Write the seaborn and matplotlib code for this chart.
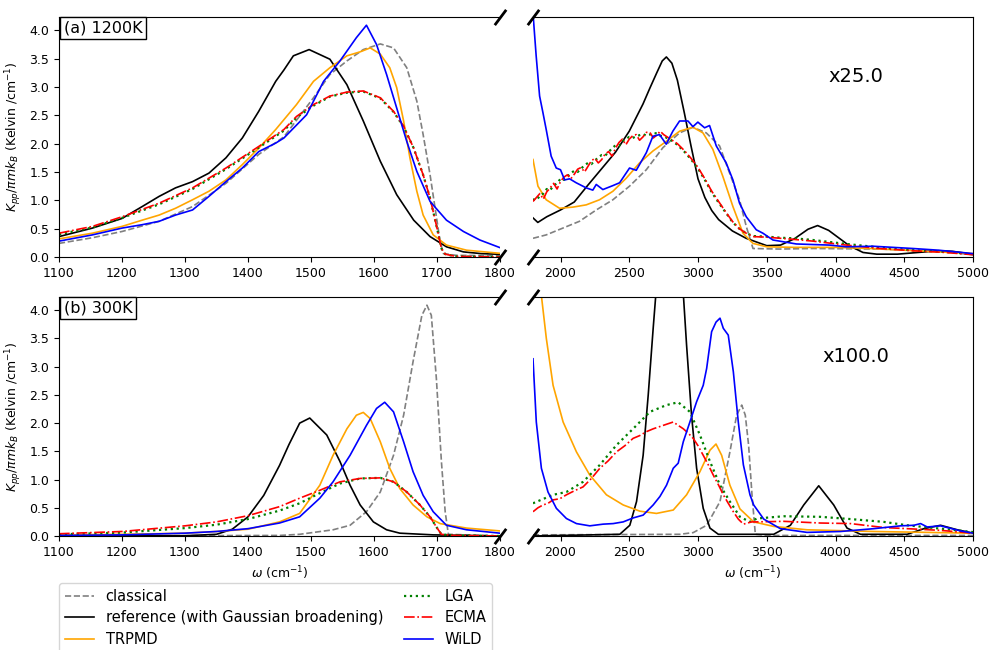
import matplotlib
matplotlib.use("Agg")
import matplotlib.pyplot as plt
from matplotlib.lines import Line2D
import seaborn as sns

# ---------------- data: panel (a) 1200K, low-frequency part ----------------
ta_ref_x = [1100,1153,1200,1232,1259,1285,1312,1338,1365,1391,1417,1444,1457,1472,1497,1530,1557,1583,1610,1636,1663,1689,1715,1742,1770,1800]
ta_ref = [0.36,0.51,0.68,0.89,1.07,1.22,1.33,1.48,1.75,2.10,2.57,3.10,3.30,3.55,3.66,3.49,3.04,2.40,1.69,1.10,0.65,0.36,0.18,0.09,0.06,0.047]
ta_trp_x = [1100,1153,1200,1232,1259,1285,1312,1338,1365,1391,1417,1444,1477,1504,1530,1557,1578,1594,1610,1625,1636,1647,1657,1668,1678,1694,1715,1747,1800]
ta_trp = [0.32,0.42,0.54,0.65,0.74,0.86,1.01,1.16,1.36,1.63,1.92,2.25,2.69,3.10,3.34,3.55,3.62,3.69,3.58,3.34,2.99,2.40,1.75,1.16,0.74,0.39,0.21,0.12,0.065]
ta_wild_x = [1100,1153,1200,1232,1259,1285,1312,1338,1365,1391,1417,1444,1457,1493,1520,1546,1572,1588,1604,1620,1636,1652,1668,1689,1715,1742,1768,1800]
ta_wild = [0.28,0.39,0.51,0.57,0.63,0.74,0.83,1.07,1.33,1.57,1.86,2.01,2.10,2.51,3.10,3.46,3.87,4.09,3.75,3.22,2.63,2.04,1.51,0.98,0.65,0.45,0.30,0.165]
ta_cl_x = [1100,1153,1200,1259,1312,1365,1417,1457,1504,1530,1557,1583,1610,1631,1652,1668,1678,1689,1697,1705,1710,1730,1800]
ta_cl = [0.24,0.34,0.45,0.63,0.89,1.30,1.81,2.12,2.81,3.22,3.46,3.66,3.76,3.69,3.34,2.75,2.16,1.45,0.86,0.27,0.06,0.03,0.02]
ta_rg_x = [1100,1153,1200,1259,1312,1365,1417,1457,1477,1504,1530,1557,1583,1610,1631,1647,1663,1678,1689,1700,1707,1713,1730,1800]
ta_ecma = [0.42,0.54,0.71,0.95,1.22,1.57,1.95,2.25,2.48,2.69,2.84,2.91,2.93,2.81,2.57,2.31,1.92,1.45,1.04,0.51,0.15,0.05,0.01,0.0]
ta_lga = [0.40,0.52,0.69,0.93,1.20,1.55,1.93,2.23,2.46,2.67,2.83,2.90,2.92,2.80,2.56,2.30,1.92,1.45,1.04,0.51,0.15,0.05,0.01,0.0]

# ---------------- panel (a) 1200K, high-frequency part (x25) ----------------
tb_ref_x = [1800,1835,1900,2000,2100,2200,2300,2400,2500,2600,2650,2700,2740,2770,2810,2850,2900,2950,3000,3050,3100,3150,3250,3350,3500,3600,3700,3800,3870,3950,4000,4100,4200,4300,4450,4600,4750,4850,5000]
tb_ref = [0.69,0.61,0.71,0.83,0.97,1.27,1.56,1.85,2.22,2.70,2.98,3.25,3.46,3.53,3.42,3.12,2.55,1.95,1.38,1.05,0.82,0.66,0.46,0.33,0.20,0.21,0.32,0.49,0.555,0.47,0.38,0.20,0.08,0.05,0.05,0.08,0.11,0.10,0.05]
tb_trp_x = [1800,1836,1896,1993,2090,2187,2284,2381,2478,2575,2672,2769,2866,2963,3036,3108,3181,3254,3327,3400,3500,3700,4000,4250,4500,4750,5000]
tb_trp = [1.72,1.25,1.01,0.86,0.88,0.92,1.01,1.16,1.39,1.66,1.87,2.04,2.22,2.29,2.19,1.90,1.42,0.89,0.42,0.24,0.18,0.17,0.17,0.15,0.12,0.09,0.06]
tb_wild_x = [1800,1823,1848,1872,1896,1932,1969,2000,2030,2066,2114,2187,2235,2260,2308,2381,2430,2502,2551,2624,2672,2720,2769,2817,2866,2927,2963,2999,3048,3084,3133,3205,3254,3302,3351,3424,3472,3545,3715,3958,4079,4273,4563,4750,5000]
tb_wild = [4.3,3.55,2.84,2.55,2.25,1.78,1.57,1.54,1.36,1.38,1.31,1.22,1.18,1.28,1.19,1.26,1.31,1.57,1.53,1.84,2.13,2.16,1.99,2.22,2.40,2.40,2.30,2.38,2.28,2.32,1.96,1.66,1.36,0.95,0.71,0.48,0.42,0.30,0.23,0.21,0.18,0.19,0.15,0.12,0.06]
tb_cl_x = [1800,1896,2017,2138,2260,2381,2502,2624,2745,2866,2963,3060,3157,3230,3302,3351,3400,3594,3836,4321,4750,5000]
tb_cl = [0.33,0.39,0.51,0.63,0.83,1.01,1.25,1.54,1.93,2.19,2.29,2.19,1.96,1.48,1.01,0.54,0.15,0.14,0.15,0.14,0.10,0.04]
tb_rg_x = [1800,1825,1850,1875,1900,1925,1950,1975,2000,2025,2050,2075,2100,2125,2150,2175,2200,2225,2250,2275,2300,2325,2350,2375,2400,2425,2450,2475,2500,2525,2550,2575,2600,2625,2650,2675,2700,2725,2750,2775,2800,2850,2900,2950,3000,3050,3100,3150,3200,3250,3300,3350,3400,3500,3600,3700,3836,4079,4321,4563,4800,5000]
tb_ecma = [0.98,1.05,1.12,1.02,1.15,1.22,1.30,1.20,1.33,1.41,1.45,1.38,1.46,1.55,1.58,1.50,1.60,1.70,1.74,1.66,1.72,1.82,1.86,1.78,1.92,2.02,2.08,1.98,2.08,2.14,2.16,2.06,2.12,2.20,2.20,2.10,2.15,2.22,2.16,2.12,2.08,2.00,1.88,1.74,1.58,1.38,1.16,0.98,0.80,0.63,0.50,0.42,0.36,0.35,0.33,0.31,0.28,0.21,0.15,0.11,0.08,0.04]
tb_lga = [1.02,1.00,1.08,1.12,1.20,1.18,1.26,1.30,1.38,1.36,1.42,1.48,1.52,1.50,1.56,1.62,1.66,1.64,1.70,1.76,1.80,1.79,1.85,1.92,1.97,1.96,2.04,2.08,2.12,2.10,2.13,2.15,2.17,2.14,2.16,2.19,2.18,2.14,2.13,2.10,2.07,1.98,1.86,1.72,1.56,1.36,1.14,0.96,0.79,0.62,0.50,0.42,0.37,0.36,0.34,0.33,0.30,0.23,0.17,0.12,0.09,0.05]

# ---------------- panel (b) 300K, low-frequency part ----------------
ba_ref_x = [1100,1300,1350,1375,1400,1425,1450,1465,1482,1498,1525,1546,1562,1578,1599,1620,1641,1694,1800]
ba_ref = [0.0,0.005,0.03,0.12,0.34,0.72,1.25,1.62,2.00,2.09,1.79,1.32,0.90,0.55,0.25,0.11,0.05,0.02,0.0]
ba_trp_x = [1100,1200,1300,1350,1400,1450,1482,1514,1535,1557,1572,1583,1594,1610,1625,1641,1662,1684,1705,1747,1800]
ba_trp = [0.02,0.03,0.05,0.08,0.12,0.25,0.40,0.90,1.43,1.90,2.14,2.19,2.08,1.67,1.20,0.84,0.55,0.34,0.22,0.14,0.09]
ba_wild_x = [1100,1200,1300,1350,1400,1450,1482,1514,1535,1562,1588,1604,1617,1631,1647,1662,1678,1694,1715,1747,1800]
ba_wild = [0.01,0.02,0.05,0.08,0.13,0.23,0.34,0.67,0.96,1.43,1.96,2.26,2.37,2.20,1.67,1.14,0.72,0.43,0.19,0.11,0.05]
ba_cl_x = [1100,1450,1482,1535,1562,1588,1610,1631,1647,1662,1676,1684,1691,1699,1707,1713,1718,1800]
ba_cl = [0.0,0.01,0.03,0.11,0.19,0.43,0.78,1.43,2.14,3.09,3.91,4.09,3.91,2.79,1.32,0.43,0.03,0.0]
ba_rg_x = [1100,1200,1300,1350,1400,1450,1482,1514,1546,1578,1610,1631,1652,1673,1689,1699,1707,1725,1800]
ba_ecma = [0.04,0.08,0.18,0.25,0.36,0.52,0.67,0.81,0.96,1.02,1.03,0.96,0.78,0.55,0.34,0.16,0.03,0.01,0.0]
ba_lga = [0.03,0.06,0.14,0.20,0.30,0.45,0.58,0.76,0.93,1.02,1.03,0.96,0.78,0.55,0.34,0.16,0.03,0.01,0.0]

# ---------------- panel (b) 300K, high-frequency part (x100) ----------------
bb_ref_x = [1800,2431,2504,2553,2601,2638,2674,2694,2740,2793,2845,2893,2917,2953,2990,3038,3087,3148,3550,3672,3769,3878,3987,4084,4182,4521,4643,4764,4886,5000]
bb_ref = [0.0,0.03,0.19,0.61,1.43,2.50,3.68,4.3,6.5,8.0,6.5,4.3,3.38,2.14,1.20,0.49,0.14,0.03,0.03,0.19,0.55,0.89,0.55,0.14,0.03,0.03,0.13,0.19,0.11,0.05]
bb_trp_x = [1800,1861,1897,1946,2019,2116,2213,2334,2456,2577,2698,2820,2917,3014,3087,3131,3172,3232,3305,3405,3550,3793,4279,5000]
bb_trp = [5.5,4.26,3.50,2.67,2.02,1.49,1.08,0.73,0.55,0.44,0.40,0.46,0.73,1.14,1.52,1.63,1.43,0.90,0.48,0.25,0.17,0.11,0.08,0.05]
bb_wild_x = [1800,1824,1861,1909,1970,2043,2116,2213,2310,2383,2456,2528,2601,2674,2723,2771,2820,2856,2893,2941,2990,3038,3063,3099,3131,3160,3184,3220,3257,3293,3330,3378,3405,3478,3599,3793,4036,4279,4473,4570,4619,4667,4764,4910,5000]
bb_wild = [3.14,2.02,1.20,0.78,0.49,0.31,0.22,0.18,0.21,0.22,0.25,0.32,0.37,0.55,0.70,0.90,1.20,1.29,1.67,2.02,2.38,2.67,2.97,3.62,3.79,3.86,3.68,3.56,2.91,2.02,1.26,0.73,0.55,0.30,0.13,0.064,0.08,0.13,0.18,0.19,0.22,0.16,0.18,0.09,0.05]
bb_cl_x = [1800,2868,2965,3063,3160,3232,3281,3318,3344,3368,3393,3417,3500,5000]
bb_cl = [0.02,0.03,0.06,0.19,0.61,1.49,2.14,2.32,2.14,1.61,0.72,0.03,0.01,0.01]
bb_ecma_x = [1800,1836,1873,1910,1946,1995,2043,2100,2164,2225,2286,2346,2407,2468,2528,2577,2626,2675,2723,2771,2820,2856,2893,2930,2965,3000,3038,3075,3111,3150,3184,3220,3257,3293,3330,3390,3429,3623,3890,4109,4352,4521,4764,5000]
bb_ecma = [0.43,0.50,0.55,0.58,0.64,0.66,0.73,0.80,0.87,1.02,1.20,1.33,1.49,1.60,1.73,1.78,1.85,1.90,1.94,1.98,2.02,1.96,1.90,1.82,1.73,1.60,1.43,1.26,1.08,0.90,0.73,0.58,0.43,0.30,0.21,0.25,0.25,0.26,0.23,0.22,0.15,0.13,0.10,0.05]
bb_lga_x = [1800,1946,2043,2164,2286,2407,2528,2650,2771,2856,2941,3014,3087,3160,3232,3305,3378,3429,3623,3890,4109,4352,4521,4764,5000]
bb_lga = [0.58,0.73,0.78,0.96,1.26,1.61,1.90,2.20,2.32,2.37,2.20,1.79,1.32,0.90,0.61,0.34,0.25,0.31,0.35,0.34,0.30,0.25,0.19,0.13,0.07]

labels = ["classical", "reference (with Gaussian broadening)", "TRPMD", "LGA", "ECMA", "WiLD"]
panel_titles = ["(a) 1200K", "(b) 300K"]
scale_labels = ["x25.0", "x100.0"]
yticks = [0.0, 0.5, 1.0, 1.5, 2.0, 2.5, 3.0, 3.5, 4.0]
xticks_lo = [1100, 1200, 1300, 1400, 1500, 1600, 1700, 1800]
xticks_hi = [2000, 2500, 3000, 3500, 4000, 4500, 5000]

styles = {
    "classical": dict(color="gray", linestyle="--"),
    "reference (with Gaussian broadening)": dict(color="black", linestyle="-"),
    "TRPMD": dict(color="orange", linestyle="-"),
    "LGA": dict(color="green", linestyle=":"),
    "ECMA": dict(color="red", linestyle="-."),
    "WiLD": dict(color="blue", linestyle="-"),
}

W, H = 991, 650
fig = plt.figure(figsize=(W / 100, H / 100), dpi=100)
plt.rcParams["mathtext.fontset"] = "dejavusans"

def axrect(l, r, t, b):
    return [l / W, 1 - b / H, (r - l) / W, (b - t) / H]

ax_tl = fig.add_axes(axrect(59, 500, 17, 257))
ax_tr = fig.add_axes(axrect(533, 973, 17, 257))
ax_bl = fig.add_axes(axrect(59, 500, 297, 536))
ax_br = fig.add_axes(axrect(533, 973, 297, 536))

LW = 1.2

def lw_of(name):
    return 1.6 if name == "LGA" else LW

def draw(ax, series):
    for name, xs, ys in series:
        st = styles[name]
        sns.lineplot(x=xs, y=ys, ax=ax, color=st["color"], linestyle=st["linestyle"],
                     lw=lw_of(name), sort=False, estimator=None)

draw(ax_tl, [("classical", ta_cl_x, ta_cl), ("reference (with Gaussian broadening)", ta_ref_x, ta_ref),
             ("TRPMD", ta_trp_x, ta_trp), ("LGA", ta_rg_x, ta_lga), ("ECMA", ta_rg_x, ta_ecma),
             ("WiLD", ta_wild_x, ta_wild)])
draw(ax_tr, [("classical", tb_cl_x, tb_cl), ("reference (with Gaussian broadening)", tb_ref_x, tb_ref),
             ("TRPMD", tb_trp_x, tb_trp), ("LGA", tb_rg_x, tb_lga), ("ECMA", tb_rg_x, tb_ecma),
             ("WiLD", tb_wild_x, tb_wild)])
draw(ax_bl, [("classical", ba_cl_x, ba_cl), ("reference (with Gaussian broadening)", ba_ref_x, ba_ref),
             ("TRPMD", ba_trp_x, ba_trp), ("LGA", ba_rg_x, ba_lga), ("ECMA", ba_rg_x, ba_ecma),
             ("WiLD", ba_wild_x, ba_wild)])
draw(ax_br, [("classical", bb_cl_x, bb_cl), ("reference (with Gaussian broadening)", bb_ref_x, bb_ref),
             ("TRPMD", bb_trp_x, bb_trp), ("LGA", bb_lga_x, bb_lga), ("ECMA", bb_ecma_x, bb_ecma),
             ("WiLD", bb_wild_x, bb_wild)])

YMAX = 4.235
ylab = r"$K_{pp}/\pi m k_B$ (Kelvin /cm$^{-1}$)"
for row, (axl, axr) in enumerate([(ax_tl, ax_tr), (ax_bl, ax_br)]):
    axl.set_xlim(1100, 1800)
    axr.set_xlim(1800, 5000)
    for a in (axl, axr):
        a.set_ylim(0, YMAX)
        a.tick_params(labelsize=9)
    axl.set_xticks(xticks_lo)
    axr.set_xticks(xticks_hi)
    axl.set_yticks(yticks)
    axr.set_yticks([])
    axl.spines["right"].set_visible(False)
    axr.spines["left"].set_visible(False)
    axl.set_ylabel(ylab, fontsize=9)
    axr.set_ylabel("")
    axl.text(0.011, 0.985, panel_titles[row], transform=axl.transAxes, ha="left", va="top",
             fontsize=11.5, bbox=dict(boxstyle="square,pad=0.22", fc="white", ec="black", lw=1.0))
    axr.text(0.734, 0.753, scale_labels[row], transform=axr.transAxes, ha="center", va="center",
             fontsize=14)
    kw = dict(marker=[(-0.75, -1), (0.75, 1)], markersize=11, linestyle="none",
              color="k", mec="k", mew=2, clip_on=False)
    axl.plot([1, 1], [0, 1], transform=axl.transAxes, **kw)
    axr.plot([0, 0], [0, 1], transform=axr.transAxes, **kw)

ax_bl.set_xlabel(r"$\omega$ (cm$^{-1}$)", fontsize=9)
ax_br.set_xlabel(r"$\omega$ (cm$^{-1}$)", fontsize=9)
for a in (ax_tl, ax_tr):
    a.set_xlabel("")

handles = [Line2D([], [], lw=lw_of(n), **styles[n]) for n in labels]
fig.legend(handles, labels, ncol=2, loc="upper left", bbox_to_anchor=(59 / W, 1 - 583 / H),
           fontsize=10.5, frameon=True, columnspacing=1.4, labelspacing=0.45, borderaxespad=0)

fig.savefig("out.png", dpi=100)
